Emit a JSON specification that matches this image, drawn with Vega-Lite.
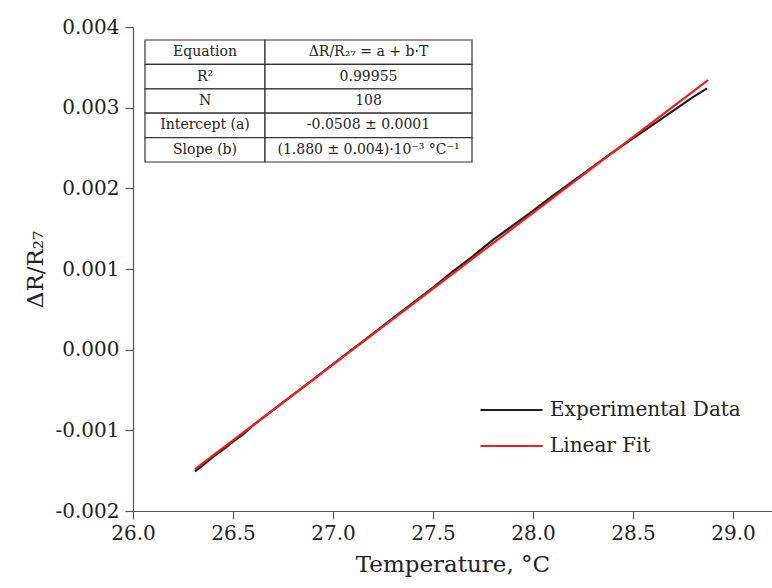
{
  "$schema": "https://vega.github.io/schema/vega-lite/v6.json",
  "width": 639,
  "height": 484,
  "autosize": {"type": "none"},
  "padding": {"left": 133, "top": 27, "right": 0, "bottom": 77},
  "background": "white",
  "config": {"view": {"stroke": null}, "font": "DejaVu Serif"},
  "datasets": {
    "lines": [
      {"series": "Experimental Data", "T": 26.31, "value": -0.00151},
      {"series": "Experimental Data", "T": 26.35, "value": -0.00143},
      {"series": "Experimental Data", "T": 26.40, "value": -0.00133},
      {"series": "Experimental Data", "T": 26.45, "value": -0.00124},
      {"series": "Experimental Data", "T": 26.50, "value": -0.00114},
      {"series": "Experimental Data", "T": 26.55, "value": -0.00105},
      {"series": "Experimental Data", "T": 26.60, "value": -0.00094},
      {"series": "Experimental Data", "T": 26.70, "value": -0.00075},
      {"series": "Experimental Data", "T": 26.80, "value": -0.00056},
      {"series": "Experimental Data", "T": 26.90, "value": -0.00037},
      {"series": "Experimental Data", "T": 27.00, "value": -0.00018},
      {"series": "Experimental Data", "T": 27.10, "value": 0.00001},
      {"series": "Experimental Data", "T": 27.20, "value": 0.00020},
      {"series": "Experimental Data", "T": 27.30, "value": 0.00039},
      {"series": "Experimental Data", "T": 27.40, "value": 0.00058},
      {"series": "Experimental Data", "T": 27.50, "value": 0.00077},
      {"series": "Experimental Data", "T": 27.60, "value": 0.00097},
      {"series": "Experimental Data", "T": 27.70, "value": 0.00116},
      {"series": "Experimental Data", "T": 27.80, "value": 0.00136},
      {"series": "Experimental Data", "T": 27.90, "value": 0.00154},
      {"series": "Experimental Data", "T": 28.00, "value": 0.00172},
      {"series": "Experimental Data", "T": 28.10, "value": 0.00191},
      {"series": "Experimental Data", "T": 28.20, "value": 0.00209},
      {"series": "Experimental Data", "T": 28.30, "value": 0.00227},
      {"series": "Experimental Data", "T": 28.40, "value": 0.00245},
      {"series": "Experimental Data", "T": 28.50, "value": 0.00262},
      {"series": "Experimental Data", "T": 28.60, "value": 0.00279},
      {"series": "Experimental Data", "T": 28.70, "value": 0.00296},
      {"series": "Experimental Data", "T": 28.80, "value": 0.00313},
      {"series": "Experimental Data", "T": 28.87, "value": 0.00324},
      {"series": "Linear Fit", "T": 26.31, "value": -0.00148},
      {"series": "Linear Fit", "T": 28.875, "value": 0.00334}
    ],
    "table": [
      {"row": 1, "k": "Equation", "v": "ΔR/R₂₇ = a + b·T"},
      {"row": 2, "k": "R²", "v": "0.99955"},
      {"row": 3, "k": "N", "v": "108"},
      {"row": 4, "k": "Intercept (a)", "v": "-0.0508 ± 0.0001"},
      {"row": 5, "k": "Slope (b)", "v": "(1.880 ± 0.004)·10⁻³ °C⁻¹"}
    ]
  },
  "layer": [
    {
      "data": {"name": "lines"},
      "mark": {"type": "line", "strokeWidth": 2.2},
      "encoding": {
        "x": {
          "field": "T", "type": "quantitative",
          "scale": {"domain": [26, 29.195], "nice": false, "zero": false},
          "axis": {
            "values": [26, 26.5, 27, 27.5, 28, 28.5, 29],
            "format": ".1f", "grid": false, "labelFlush": false,
            "labelFontSize": 20, "labelColor": "#222", "labelPadding": 4,
            "tickSize": 8, "tickColor": "#555", "domainColor": "#555", "domainWidth": 1.2, "tickWidth": 1.2,
            "title": "Temperature, °C", "titleFontSize": 23, "titleFontWeight": "normal",
            "titleColor": "#222", "titlePadding": 10
          }
        },
        "y": {
          "field": "value", "type": "quantitative",
          "scale": {"domain": [-0.002, 0.004], "nice": false, "zero": false},
          "axis": {
            "values": [-0.002, -0.001, 0, 0.001, 0.002, 0.003, 0.004],
            "labelExpr": "replace(format(datum.value, '.3f'), '−', '-')",
            "grid": false, "labelFlush": false,
            "labelFontSize": 20, "labelColor": "#222", "labelPadding": 6,
            "tickSize": 8, "tickColor": "#555", "domainColor": "#555", "domainWidth": 1.2, "tickWidth": 1.2,
            "title": "ΔR/R₂₇", "titleFontSize": 23, "titleFontWeight": "normal",
            "titleColor": "#222", "titlePadding": 7
          }
        },
        "color": {
          "field": "series", "type": "nominal",
          "scale": {"domain": ["Experimental Data", "Linear Fit"], "range": ["#1e1e1e", "#f21d1d"]},
          "legend": {
            "orient": "none", "legendX": 346, "legendY": 365, "title": null,
            "symbolType": "stroke", "symbolSize": 3844, "symbolStrokeWidth": 2.2,
            "labelFontSize": 20, "labelFont": "DejaVu Serif", "labelColor": "#222", "labelLimit": 400,
            "clipHeight": 36, "labelOffset": 6, "rowPadding": 0
          }
        }
      }
    },
    {
      "data": {"name": "table"},
      "encoding": {
        "y": {"field": "row", "type": "ordinal", "scale": {"range": [13, 135], "paddingInner": 0, "paddingOuter": 0}, "axis": null}
      },
      "layer": [
        {
          "mark": {"type": "rect", "fill": "white", "stroke": "#333", "strokeWidth": 1.2},
          "encoding": {
            "x": {"datum": 0, "type": "quantitative", "scale": {"domain": [0, 327], "range": [12, 339]}, "axis": null},
            "x2": {"datum": 120}
          }
        },
        {
          "mark": {"type": "rect", "fill": "white", "stroke": "#333", "strokeWidth": 1.2},
          "encoding": {
            "x": {"datum": 120, "type": "quantitative", "scale": {"domain": [0, 327], "range": [12, 339]}, "axis": null},
            "x2": {"datum": 327}
          }
        },
        {
          "mark": {"type": "text", "fontSize": 14, "font": "DejaVu Serif", "color": "#222", "baseline": "middle"},
          "encoding": {
            "x": {"datum": 60, "type": "quantitative", "scale": {"domain": [0, 327], "range": [12, 339]}, "axis": null},
            "text": {"field": "k"}
          }
        },
        {
          "mark": {"type": "text", "fontSize": 14, "font": "DejaVu Serif", "color": "#222", "baseline": "middle"},
          "encoding": {
            "x": {"datum": 223.5, "type": "quantitative", "scale": {"domain": [0, 327], "range": [12, 339]}, "axis": null},
            "text": {"field": "v"}
          }
        }
      ]
    }
  ],
  "resolve": {"scale": {"x": "independent", "y": "independent", "color": "independent"}}
}
